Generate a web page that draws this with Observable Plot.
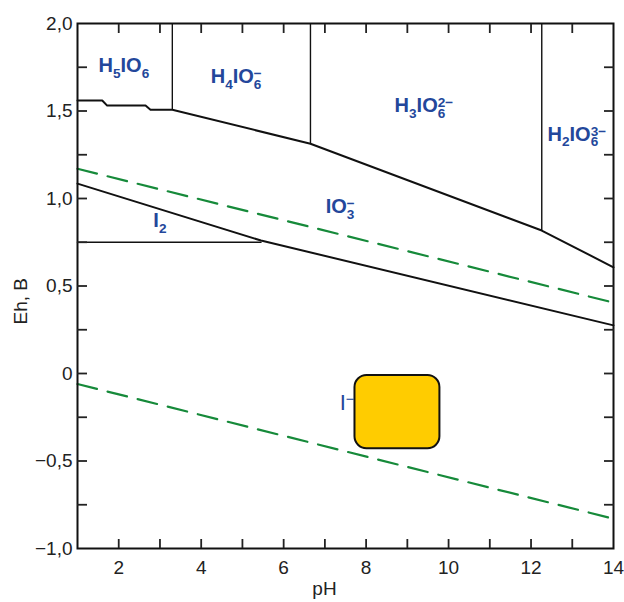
<!DOCTYPE html>
<html>
<head>
<meta charset="utf-8">
<script src="https://cdn.jsdelivr.net/npm/d3@7"></script>
<script src="https://cdn.jsdelivr.net/npm/@observablehq/plot@0.6"></script>
<style>
  body { margin: 0; background: #fff; }
  #chart svg { display: block; }
</style>
</head>
<body>
<div id="chart"></div>
<script>
// ---- data ----
// periodate / iodate boundary
const upperPH = [1, 1.6, 1.72, 2.65, 2.77, 3.3, 6.65, 12.26, 14];
const upperEh = [1.56, 1.56, 1.531, 1.531, 1.507, 1.507, 1.313, 0.817, 0.607];
// IO3- / I2 and IO3- / I- boundary
const lowerPH = [1, 5.45, 14];
const lowerEh = [1.085, 0.76, 0.275];
// I2 / I- boundary (horizontal)
const i2PH = [1, 5.45];
const i2Eh = [0.75, 0.75];
// vertical boundaries between periodate species
const vertPH = [3.3, 6.65, 12.26];
const vertLowEh = [1.507, 1.313, 0.817];
const vertTopEh = 2.0;
// water stability lines
const waterPH = [1, 14];
const waterUpperEh = [1.17, 0.405];
const waterLowerEh = [-0.06, -0.83];
// highlighted box
const boxPH = [7.73, 9.79];
const boxEh = [-0.43, -0.011];
// species labels (markup: _ subscript, ^ superscript)
const labelText = ["H_5IO_6", "H_4IO_6^−", "H_3IO_6^2−", "H_2IO_6^3−", "IO_3^−", "I_2", "I^−"];
const labelPH = [1.51, 4.23, 8.69, 12.40, 7.02, 2.84, 7.36];
const labelEh = [1.762, 1.695, 1.530, 1.368, 0.953, 0.873, -0.166];
// axis titles and their positions along the axes
const xTitle = "pH", xTitlePH = 6.99;
const yTitle = "Eh, B", yTitleEh = 0.28;
// axis ticks
const xTickLabels = [2, 4, 6, 8, 10, 12, 14];
const xTicksAll = [2, 3, 4, 5, 6, 7, 8, 9, 10, 11, 12, 13];
const yTickLabels = [-1, -0.5, 0, 0.5, 1, 1.5, 2];
const yTicksAll = [-0.75, -0.5, -0.25, 0, 0.25, 0.5, 0.75, 1, 1.25, 1.5, 1.75];

// ---- build tables ----
const upper = upperPH.map((x, i) => ({x, y: upperEh[i]}));
const lower = lowerPH.map((x, i) => ({x, y: lowerEh[i]}));
const i2line = i2PH.map((x, i) => ({x, y: i2Eh[i]}));
const verts = vertPH.map((x, i) => ({x, y1: vertLowEh[i], y2: vertTopEh}));
const wUp = waterPH.map((x, i) => ({x, y: waterUpperEh[i]}));
const wLo = waterPH.map((x, i) => ({x, y: waterLowerEh[i]}));
const box = [{x1: boxPH[0], x2: boxPH[1], y1: boxEh[0], y2: boxEh[1]}];
const labels = labelText.map((t, i) => ({t, x: labelPH[i], y: labelEh[i]}));

const fmt = d => d === 0 ? "0" : d.toFixed(1).replace(".", ",").replace("-", "\u2212");

const blue = "#23479b";
const green = "#168a3a";
const font = "Arial, 'Liberation Sans', sans-serif";

const svg = Plot.plot({
  width: 624,
  height: 602,
  marginLeft: 77,
  marginRight: 11,
  marginTop: 23,
  marginBottom: 54,
  style: {fontFamily: font, color: "#222", background: "#fff"},
  x: {domain: [1, 14], label: null},
  y: {domain: [-1, 2], label: null},
  marks: [
    Plot.rect(box, {x1: "x1", x2: "x2", y1: "y1", y2: "y2", fill: "#ffcc00", stroke: "#111", strokeWidth: 2, rx: 12, ry: 12}),
    Plot.line(wUp, {x: "x", y: "y", stroke: green, strokeWidth: 2.2, strokeDasharray: "20,11"}),
    Plot.line(wLo, {x: "x", y: "y", stroke: green, strokeWidth: 2.2, strokeDasharray: "20,11"}),
    Plot.ruleX(verts, {x: "x", y1: "y1", y2: "y2", stroke: "#111", strokeWidth: 1.4}),
    Plot.line(i2line, {x: "x", y: "y", stroke: "#111", strokeWidth: 1.6}),
    Plot.line(upper, {x: "x", y: "y", stroke: "#111", strokeWidth: 2}),
    Plot.line(lower, {x: "x", y: "y", stroke: "#111", strokeWidth: 2}),
    Plot.text(labels, {filter: d => d.t !== "I^−", x: "x", y: "y", text: "t", textAnchor: "start", fill: blue, fontSize: 20, fontWeight: "bold"}),
    Plot.text(labels, {filter: d => d.t === "I^−", x: "x", y: "y", text: "t", textAnchor: "start", fill: blue, fontSize: 22}),
    Plot.frame({stroke: "#111", strokeWidth: 2}),
    // tick marks (inward)
    Plot.axisX(xTicksAll, {anchor: "bottom", tickSize: -9, tickFormat: () => "", strokeWidth: 1.8, label: null}),
    Plot.axisX(xTicksAll, {anchor: "top", tickSize: -9, tickFormat: () => "", strokeWidth: 1.8, label: null}),
    Plot.axisY(yTicksAll, {anchor: "left", tickSize: -10, tickFormat: () => "", strokeWidth: 1.8, label: null}),
    Plot.axisY(yTicksAll, {anchor: "right", tickSize: -10, tickFormat: () => "", strokeWidth: 1.8, label: null}),
    // tick labels
    Plot.axisX(xTickLabels, {anchor: "bottom", tickSize: 0, tickPadding: 12, fontSize: 19, tickFormat: d => String(d), label: null}),
    Plot.axisY(yTickLabels, {anchor: "left", tickSize: 0, tickPadding: 5, fontSize: 19, tickFormat: fmt, label: null}),
    // axis titles
    Plot.text([{t: yTitle, y: yTitleEh}], {y: "y", text: "t", frameAnchor: "left", dx: -57, rotate: -90, fontSize: 19, fill: "#222"}),
    Plot.text([{t: xTitle, x: xTitlePH}], {x: "x", text: "t", frameAnchor: "bottom", dy: 46, fontSize: 19, fill: "#222"})
  ]
});

document.getElementById("chart").appendChild(svg);

// typeset chemical formulas with stacked sub/superscripts
d3.select(svg).selectAll("text").each(function() {
  const s = this.textContent;
  if (!/[_^]/.test(s)) return;
  const fs = parseFloat(getComputedStyle(this).fontSize) || 20;
  const small = 0.68 * fs, subShift = 0.3 * fs, supShift = 0.25 * fs;
  const el = d3.select(this);
  el.text(null);
  const re = /_(\d)|\^(.+)$|([^_^]+)/g;
  let m, cur = 0, prevSub = null;
  while ((m = re.exec(s))) {
    if (m[1]) {
      prevSub = el.append("tspan").attr("font-size", small).attr("dy", subShift - cur).text(m[1]);
      cur = subShift;
    } else if (m[2]) {
      const t = el.append("tspan").attr("font-size", small).attr("dy", -supShift - cur).text(m[2]);
      if (prevSub) t.attr("dx", -prevSub.node().getComputedTextLength());
      cur = -supShift; prevSub = null;
    } else {
      el.append("tspan").attr("dy", -cur).text(m[3]);
      cur = 0; prevSub = null;
    }
  }
});
</script>
</body>
</html>
